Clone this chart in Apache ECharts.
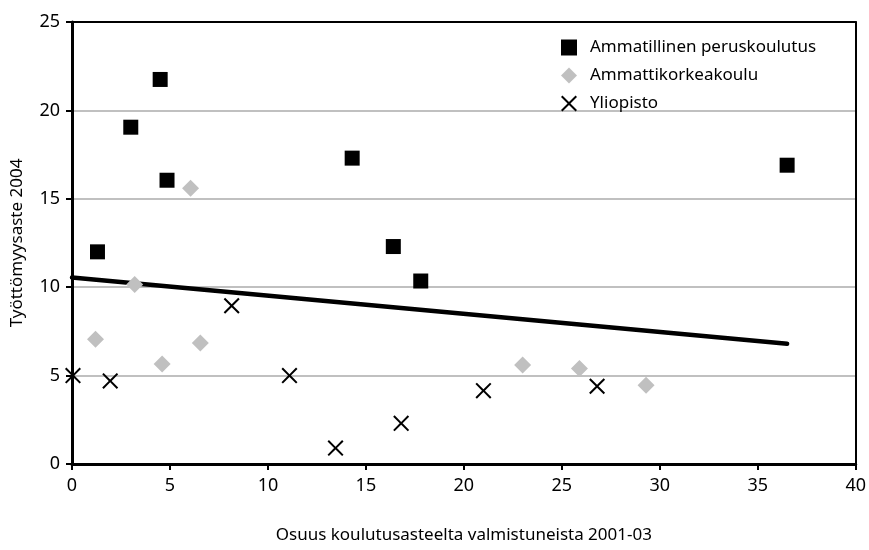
<!DOCTYPE html>
<html>
<head>
<meta charset="utf-8">
<script src="https://cdn.jsdelivr.net/npm/echarts@6/dist/echarts.min.js"></script>
<style>
  html, body { margin: 0; padding: 0; background: #fff; }
  #chart { width: 869px; height: 550px; }
</style>
</head>
<body>
<div id="chart"></div>
<script>
// data
var seriesNames = ["Ammatillinen peruskoulutus", "Ammattikorkeakoulu", "Yliopisto"];
var peruskoulutus = [[1.3, 12.0], [3.0, 19.05], [4.5, 21.75], [4.85, 16.05], [14.3, 17.3], [16.4, 12.3], [17.8, 10.35], [36.5, 16.9]];
var amk = [[1.2, 7.05], [3.2, 10.15], [4.6, 5.65], [6.05, 15.6], [6.55, 6.85], [23.0, 5.6], [25.9, 5.4], [29.3, 4.45]];
var yliopisto = [[0.05, 5.0], [1.95, 4.7], [8.15, 8.95], [11.1, 5.0], [13.45, 0.9], [16.8, 2.3], [21.0, 4.15], [26.8, 4.4]];
var trend = [[0, 10.55], [36.5, 6.8]];

var xName = "Osuus koulutusasteelta valmistuneista 2001-03";
var yName = "Työttömyysaste 2004";

var font = "'Noto Sans', sans-serif";
// X marker as a filled polygon
var xSymbol = "path://M0,0.9L0.9,0L5,4.1L9.1,0L10,0.9L5.9,5L10,9.1L9.1,10L5,5.9L0.9,10L0,9.1L4.1,5Z";

var chart = echarts.init(document.getElementById("chart"), null, { renderer: "canvas" });

var option = {
    animation: false,
    textStyle: { fontFamily: font, color: "#000" },
    grid: { left: 72, right: 13, top: 22, bottom: 86, containLabel: false },
    legend: {
        data: seriesNames,
        orient: "vertical",
        left: 556,
        top: 34,
        itemWidth: 16,
        itemHeight: 16,
        itemGap: 11,
        textStyle: { fontSize: 17, color: "#000", fontFamily: font, padding: [0, 0, 0, 8] }
    },
    xAxis: [{
        type: "value",
        min: 0,
        max: 40,
        interval: 5,
        name: xName,
        nameLocation: "middle",
        nameGap: 63,
        nameTextStyle: { fontSize: 17, color: "#000" },
        axisLine: { show: true, onZero: false, lineStyle: { color: "#000", width: 3 } },
        axisTick: { show: true, inside: false, length: 6, lineStyle: { color: "#000", width: 2 } },
        axisLabel: { fontSize: 18, color: "#000", margin: 13 },
        splitLine: { show: false }
    }, {
        type: "value",
        position: "top",
        min: 0,
        max: 40,
        axisLine: { show: true, onZero: false, lineStyle: { color: "#000", width: 2 } },
        axisTick: { show: false },
        axisLabel: { show: false },
        splitLine: { show: false }
    }],
    yAxis: [{
        type: "value",
        min: 0,
        max: 25,
        interval: 5,
        name: yName,
        nameLocation: "middle",
        nameGap: 46,
        nameTextStyle: { fontSize: 17, color: "#000" },
        axisLine: { show: true, onZero: false, lineStyle: { color: "#000", width: 3 } },
        axisTick: { show: true, inside: false, length: 6, lineStyle: { color: "#000", width: 2 } },
        axisLabel: { fontSize: 18, color: "#000", margin: 12 },
        splitLine: { show: true, lineStyle: { color: "#c0c0c0", width: 2 } }
    }, {
        type: "value",
        position: "right",
        min: 0,
        max: 25,
        axisLine: { show: true, onZero: false, lineStyle: { color: "#000", width: 2 } },
        axisTick: { show: false },
        axisLabel: { show: false },
        splitLine: { show: false }
    }],
    series: [{
        name: "trend",
        type: "line",
        data: trend,
        showSymbol: false,
        lineStyle: { color: "#000", width: 4.5, cap: "round" },
        z: 3,
        silent: true
    }, {
        name: seriesNames[0],
        type: "scatter",
        data: peruskoulutus,
        symbol: "rect",
        symbolSize: 15,
        itemStyle: { color: "#000", opacity: 1 },
        z: 4
    }, {
        name: seriesNames[1],
        type: "scatter",
        data: amk,
        symbol: "diamond",
        symbolSize: 17,
        itemStyle: { color: "#c0c0c0", opacity: 1 },
        z: 4
    }, {
        name: seriesNames[2],
        type: "scatter",
        data: yliopisto,
        symbol: xSymbol,
        symbolSize: 16,
        itemStyle: { color: "#000", opacity: 1 },
        z: 4
    }]
};

chart.setOption(option);
</script>
</body>
</html>
